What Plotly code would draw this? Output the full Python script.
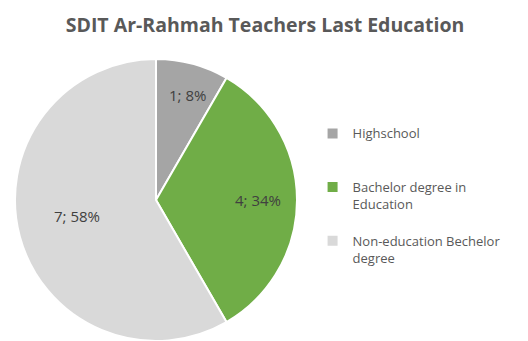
import math
import plotly.graph_objects as go

labels = ["Highschool", "Bachelor degree in Education", "Non-education Bechelor degree"]
legend_text = [" <br>Highschool<br> ", " <br>Bachelor degree in<br>Education", " <br>Non-education Bechelor<br>degree"]
values = [1, 4, 7]
pct_labels = ["8%", "34%", "58%"]
colors = ["#A5A5A5", "#70AD47", "#D9D9D9"]

W, H = 528, 341
cx, cy, r = 156, 200, 141
label_radius = [0.86, 0.72, 0.76]

fig = go.Figure(go.Pie(
    labels=legend_text,
    values=values,
    textinfo="none",
    hovertext=labels,
    marker=dict(colors=colors, line=dict(color="white", width=2)),
    sort=False,
    direction="clockwise",
    rotation=0,
    domain=dict(x=[(cx - r) / W, (cx + r) / W], y=[max(0, 1 - (cy + r) / H), 1 - (cy - r) / H]),
))

# data labels placed along the mid-angle of each slice (computed from values)
total = sum(values)
cum = 0
for v, p, f in zip(values, pct_labels, label_radius):
    mid = (cum + v / 2) / total * 2 * math.pi
    cum += v
    px = cx + f * r * math.sin(mid)
    py = cy - f * r * math.cos(mid)
    fig.add_annotation(x=px / W, y=1 - py / H, xref="paper", yref="paper",
                       text=f"{v}; {p}", showarrow=False,
                       font=dict(family="Open Sans", size=15, color="#404040"))

fig.update_layout(
    width=W, height=H,
    margin=dict(l=0, r=0, t=0, b=0),
    paper_bgcolor="white",
    plot_bgcolor="white",
    title=dict(text="<b>SDIT Ar-Rahmah Teachers Last Education</b>", x=0.502, xanchor="center",
               y=0.925, yanchor="middle",
               font=dict(family="Open Sans", size=19.5, color="#595959")),
    legend=dict(x=0.592, y=0.45, xanchor="left", yanchor="middle",
                font=dict(family="Open Sans", size=13, color="#595959"),
                itemwidth=30),
    showlegend=True,
)

fig.write_html("out.html")
